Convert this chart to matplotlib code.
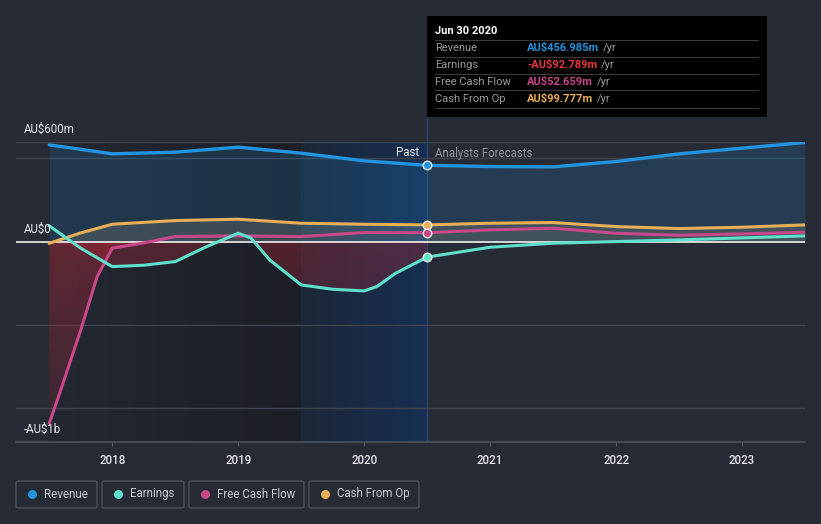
import matplotlib
matplotlib.use("Agg")
import matplotlib.pyplot as plt
import numpy as np
from matplotlib.patches import FancyBboxPatch, Rectangle
from matplotlib.lines import Line2D
from matplotlib.colors import LinearSegmentedColormap

plt.rcParams['font.family'] = ['Roboto', 'DejaVu Sans']

# ---- data (AU$ millions) ----
rev_x = [2017.5, 2018.0, 2018.5, 2019.0, 2019.5, 2020.0, 2020.5, 2021.0, 2021.5, 2022.0, 2022.5, 2023.0, 2023.5]
rev_y = [580, 526, 536, 566, 530, 484, 457, 450, 448, 480, 526, 560, 594]

earn_x = [2017.5, 2017.75, 2018.0, 2018.25, 2018.5, 2018.75, 2019.0, 2019.1, 2019.25, 2019.5, 2019.75, 2020.0, 2020.1, 2020.25, 2020.5,
          2021.0, 2021.5, 2022.0, 2022.5, 2023.0, 2023.5]
earn_y = [94, -40, -150, -142, -120, -30, 50, 22, -110, -260, -286, -296, -270, -190, -93,
          -34, -10, 0, 10, 22, 34]

fcf_x = [2017.5, 2017.6, 2017.75, 2017.88, 2018.0, 2018.25, 2018.5, 2019.0, 2019.5, 2020.0, 2020.5,
         2021.0, 2021.5, 2022.0, 2022.5, 2023.0, 2023.5]
fcf_y = [-1090, -870, -530, -210, -40, -8, 30, 34, 30, 54, 53,
         70, 80, 50, 38, 46, 56]

cfo_x = [2017.5, 2017.75, 2018.0, 2018.5, 2019.0, 2019.5, 2020.0, 2020.5,
         2021.0, 2021.5, 2022.0, 2022.5, 2023.0, 2023.5]
cfo_y = [-10, 52, 104, 126, 134, 110, 104, 100,
         110, 114, 90, 78, 86, 100]

year_ticks = [2018, 2019, 2020, 2021, 2022, 2023]
series_names = ['Revenue', 'Earnings', 'Free Cash Flow', 'Cash From Op']
tooltip_values = ['AU$456.985m', '-AU$92.789m', 'AU$52.659m', 'AU$99.777m']

C_REV = '#2394df'
C_EARN = '#5fe0cb'
C_FCF = '#c9488a'
C_CFO = '#e8ae58'
C_EARN_TXT = '#e8383d'
BG = '#262b36'

W, H = 821, 524
fig = plt.figure(figsize=(W / 100, H / 100), dpi=100, facecolor=BG)

def fx(px):
    return px / W

def fy(py):
    return 1 - py / H

ax_l, ax_r, ax_t, ax_b = 16, 805, 141.5, 441.7
ax = fig.add_axes([fx(ax_l), fy(ax_b), fx(ax_r - ax_l), (ax_b - ax_t) / H])
ax.set_facecolor(BG)
x0 = 2018 - (112.3 - ax_l) / 126.0
x1 = 2023.5
ax.set_xlim(x0, x1)
ax.set_ylim(-1200, 600)
for s in ax.spines.values():
    s.set_visible(False)
ax.set_yticks([])
ax.set_xticks(year_ticks)
ax.set_xticklabels([str(y) for y in year_ticks], color='#e6e8ec', fontsize=8.3, fontweight='medium')
ax.tick_params(axis='x', length=3, color='#555b66', pad=6)
ax.axhline(-1200, color='#4d535e', lw=1.2, zorder=1, clip_on=False)

# past shaded regions (gradients)
grad = np.linspace(0, 1, 200).reshape(1, -1)
cm_dark = LinearSegmentedColormap.from_list('d', ['#232832', '#1c1f26'])
ax.imshow(grad, cmap=cm_dark, aspect='auto', extent=[2017.5, 2019.5, -1200, 600], zorder=0.2)
cm_blue = LinearSegmentedColormap.from_list('b', ['#1c2737', '#172f52'])
ax.imshow(grad, cmap=cm_blue, aspect='auto', extent=[2019.5, 2020.5, -1200, 600], zorder=0.2)
ax.axvline(2020.5, color='#24466e', lw=1.0, zorder=0.3)

# grid lines
for g in [600, 500, -500, -1000]:
    ax.axhline(g, color='#3d434f', lw=1.0, zorder=0.5)

# fills
ax.fill_between(rev_x, rev_y, 0, color=C_REV, alpha=0.17, lw=0, zorder=1)
ax.fill_between(cfo_x, cfo_y, 0, color='#d9c59a', alpha=0.16, lw=0, zorder=1)

# red gradient fill for negative past values
npix = 256
alpha_col = np.linspace(0.42, 0.14, npix).reshape(-1, 1)
red_img = np.zeros((npix, 1, 4))
red_img[..., 0] = 0.72
red_img[..., 1] = 0.16
red_img[..., 2] = 0.22
red_img[..., 3] = alpha_col
for xs, ys, amul in [(fcf_x, fcf_y, 1.0), (earn_x, earn_y, 0.8)]:
    xa = np.array(xs); ya = np.array(ys)
    m = xa <= 2020.5
    poly = ax.fill_between(xa[m], np.minimum(ya[m], 0), 0, color='none', lw=0)
    img = red_img.copy()
    img[..., 3] *= amul
    im = ax.imshow(img, aspect='auto', extent=[2017.5, 2020.5, -1200, 0], origin='upper', zorder=1)
    path = poly.get_paths()[0]
    im.set_clip_path(path, transform=ax.transData)

ax.set_xlim(x0, x1)
ax.set_ylim(-1200, 600)

ax.axhline(0, color='#f2f2f2', lw=1.2, zorder=2)

# lines
ax.plot(rev_x, rev_y, color=C_REV, lw=2.4, zorder=5, solid_capstyle='round', solid_joinstyle='round')
ax.plot(cfo_x, cfo_y, color=C_CFO, lw=2.2, zorder=4, solid_joinstyle='round')
ax.plot(fcf_x, fcf_y, color=C_FCF, lw=2.2, zorder=4, solid_joinstyle='round')
ax.plot(earn_x, earn_y, color=C_EARN, lw=2.2, zorder=4, solid_joinstyle='round')

# markers at Jun 30 2020
for xs, ys, c in [(rev_x, rev_y, C_REV), (cfo_x, cfo_y, C_CFO), (fcf_x, fcf_y, C_FCF), (earn_x, earn_y, C_EARN)]:
    i = xs.index(2020.5)
    ax.scatter([xs[i]], [ys[i]], s=38, color=c, edgecolor='#e8e8e8', linewidth=1.0, zorder=7)

# y labels
fig.text(fx(24), fy(129), 'AU$600m', color='#e6e8ec', fontsize=8.3, va='center', ha='left')
fig.text(fx(24), fy(229), 'AU$0', color='#e6e8ec', fontsize=8.3, va='center', ha='left')
fig.text(fx(24), fy(429), '-AU$1b', color='#e6e8ec', fontsize=8.3, va='center', ha='left')

fig.text(fx(419), fy(153), 'Past', color='#f0f0f0', fontsize=8.3, va='center', ha='right')
fig.text(fx(435), fy(153), 'Analysts Forecasts', color='#8c919a', fontsize=8.3, va='center', ha='left')

# vertical line to tooltip
fig.add_artist(Line2D([fx(427), fx(427)], [fy(117), fy(141.5)], color='#24466e', lw=1.0))

# tooltip
fig.add_artist(Rectangle((fx(427), fy(117)), fx(767 - 427), (117 - 16) / H, facecolor='#000000', edgecolor='none'))
fig.text(fx(435), fy(31), 'Jun 30 2020', color='#ffffff', fontsize=8, fontweight='bold', va='center')
val_colors = [C_REV, C_EARN_TXT, C_FCF, C_CFO]
row_y = [48, 65, 82, 99]
for k in range(4):
    sep = row_y[k] - 8.5
    fig.add_artist(Line2D([fx(435), fx(758)], [fy(sep), fy(sep)], color='#3a3a3a', lw=0.8))
    fig.text(fx(435), fy(row_y[k]), series_names[k], color='#9a9a9a', fontsize=8, va='center')
    fig.text(fx(527), fy(row_y[k]), tooltip_values[k], color=val_colors[k], fontsize=8, fontweight='bold', va='center')
fig.add_artist(Line2D([fx(435), fx(758)], [fy(108), fy(108)], color='#3a3a3a', lw=0.8))
fig.canvas.draw()
r = fig.canvas.get_renderer()
for t in list(fig.texts):
    if t.get_text() in tooltip_values:
        bb = t.get_window_extent(r)
        fig.text((bb.x1 + 4) / W, t.get_position()[1], '/yr', color='#9a9a9a', fontsize=8, va='center')

# legend boxes
boxes = [(16, 97), (102, 184), (189, 304), (309, 419)]
colors = [C_REV, C_EARN, C_FCF, C_CFO]
for (l, rr), name, c in zip(boxes, series_names, colors):
    fig.add_artist(FancyBboxPatch((fx(l), fy(508)), fx(rr - l), 27 / H,
                                  boxstyle='round,pad=0,rounding_size=0.003',
                                  facecolor='none', edgecolor='#4a505b', lw=1.0))
    fig.add_artist(Line2D([fx(l + 16)], [fy(494)], marker='o', markersize=6.5, color=c, markeredgewidth=0))
    fig.text(fx(l + 28), fy(494), name, color='#c8cbd0', fontsize=8.3, va='center')

fig.savefig('out.png', dpi=100, facecolor=BG)
